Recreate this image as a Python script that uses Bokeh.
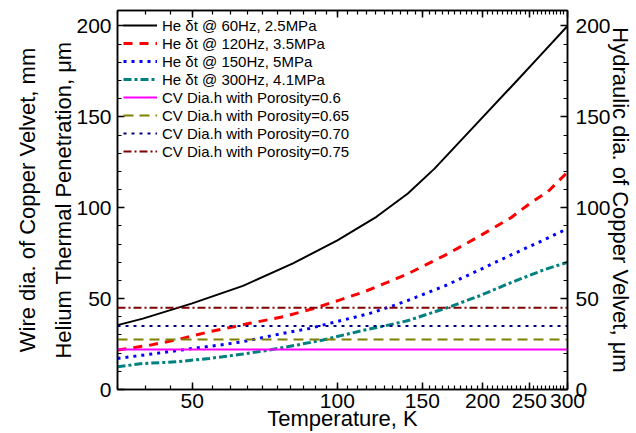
from bokeh.plotting import figure
from bokeh.models import (LinearAxis, LogAxis, FixedTicker, Range1d,
                          NumeralTickFormatter, CustomLabelingPolicy)
from bokeh.embed import file_html
from bokeh.resources import INLINE

# ---- data ----
T_black = [35, 39.5, 50, 63.7, 80.9, 100, 120.5, 140, 159, 192.5, 233, 265, 300]
d_black = [35.4, 39.0, 47.4, 57.0, 69.4, 82.0, 95.0, 107.8, 121.5, 145.0, 168.5, 184.5, 200.0]

T_red = [35, 40.9, 46.7, 54.3, 65.8, 77.2, 89.4, 101, 113.8, 130.4, 139.6, 167, 196, 229, 252, 273.4, 286.7, 300]
d_red = [21.7, 24.4, 27.5, 31.8, 36.4, 40.0, 44.6, 49.2, 53.8, 60.2, 63.5, 73.8, 84.0, 94.5, 102.8, 108.9, 114.4, 119.5]

T_blue = [35, 39.5, 46.3, 50.2, 56.9, 63.7, 71.2, 78.3, 87.6, 96.4, 106.1, 116.8, 128.5, 139.7, 167, 196, 229, 269, 300]
d_blue = [17.1, 18.9, 21.3, 22.6, 24.4, 26.3, 29.0, 31.2, 33.6, 36.4, 39.1, 41.9, 45.5, 48.9, 57.0, 65.5, 74.0, 82.5, 88.5]

T_teal = [35, 39.5, 46.3, 54.3, 63.7, 72.3, 82.1, 93.3, 102.7, 113.8, 125, 139.6, 169, 196, 229, 269, 300]
d_teal = [12.5, 14.3, 15.2, 17.1, 19.5, 21.7, 24.4, 27.2, 29.9, 32.7, 34.9, 37.8, 45.0, 51.3, 58.8, 66.0, 70.0]

T_span = [35, 300]
porosity = ["0.6", "0.65", "0.70", "0.75"]
cv_dia = [22.0, 27.5, 35.0, 45.0]

he_labels = ["He \u03b4t @ 60Hz, 2.5MPa", "He \u03b4t @ 120Hz, 3.5MPa",
             "He \u03b4t @ 150Hz, 5MPa", "He \u03b4t @ 300Hz, 4.1MPa"]

x_major = [50, 100, 150, 200, 250, 300]
x_minor = list(range(35, 300, 5))
y_major = [0, 50, 100, 150, 200]
y_minor = list(range(0, 210, 10))

FONT = "Liberation Sans"

p = figure(width=636, height=433, x_axis_type="log",
           x_range=Range1d(35, 300), y_range=Range1d(0, 208.5),
           output_backend="svg", toolbar_location=None,
           min_border_left=117, min_border_right=69,
           min_border_top=10, min_border_bottom=43)
p.grid.visible = False
p.outline_line_color = "black"
p.outline_line_width = 1.5

# curves
p.line(T_black, d_black, line_color="black", line_width=2, legend_label=he_labels[0])
p.line(T_red, d_red, line_color="#FF0000", line_width=3, line_dash="9 7", legend_label=he_labels[1])
p.line(T_blue, d_blue, line_color="#0000FF", line_width=3, line_dash="3 5", legend_label=he_labels[2])
p.line(T_teal, d_teal, line_color="#008080", line_width=3, line_dash="8 3 3 3", legend_label=he_labels[3])

h_colors = ["#FF00FF", "#808000", "#000080", "#800000"]
h_dash = ["solid", "10 6", "3 5", "8 3 2 3"]
for por, dia, c, dsh in zip(porosity, cv_dia, h_colors, h_dash):
    p.line(T_span, [dia, dia], line_color=c, line_width=2, line_dash=dsh,
           legend_label="CV Dia.h with Porosity=" + por)

xticker = FixedTicker(ticks=x_major, minor_ticks=x_minor)
yticker = FixedTicker(ticks=y_major, minor_ticks=y_minor)


def style(ax):
    ax.major_tick_in = 7
    ax.major_tick_out = 0
    ax.minor_tick_in = 4
    ax.minor_tick_out = 0
    ax.axis_line_width = 1.5
    ax.major_tick_line_width = 1.5
    ax.minor_tick_line_width = 1.2
    ax.major_label_text_font = FONT
    ax.major_label_text_font_size = "21px"
    ax.major_label_text_color = "black"
    ax.axis_label_text_font = FONT
    ax.axis_label_text_font_size = "22px"
    ax.axis_label_text_font_style = "normal"
    ax.axis_label_text_color = "black"


xa = p.xaxis[0]
xa.ticker = xticker
xa.formatter = NumeralTickFormatter(format="0")
style(xa)
xa.axis_label = "Temperature, K"
xa.major_label_standoff = 4
xa.axis_label_standoff = -5

ya = p.yaxis[0]
ya.ticker = yticker
style(ya)
ya.axis_label = "Helium Thermal Penetration, \u03bcm"
ya.major_label_standoff = 6
ya.axis_label_standoff = -3

outer = LinearAxis(ticker=FixedTicker(ticks=[]), axis_label="Wire dia. of Copper Velvet, mm")
style(outer)
outer.axis_line_color = None
outer.major_tick_in = 0
outer.minor_tick_in = 0
outer.axis_label_standoff = 9
p.add_layout(outer, "left")

top = LogAxis(ticker=xticker)
style(top)
top.major_label_policy = CustomLabelingPolicy(code="return new Set()")
top.major_label_text_font_size = "1px"
top.major_label_standoff = 0
p.add_layout(top, "above")

right = LinearAxis(ticker=yticker, axis_label="Hydraulic dia. of Copper Velvet, \u03bcm")
style(right)
right.major_label_standoff = 8
right.axis_label_standoff = -6
p.add_layout(right, "right")

lg = p.legend[0]
lg.location = "top_left"
lg.margin = 6
lg.padding = 8
lg.spacing = 0
lg.glyph_width = 34
lg.glyph_height = 18
lg.label_height = 18
lg.label_standoff = 5
lg.label_text_font = FONT
lg.label_text_font_size = "15px"
lg.label_text_color = "black"
lg.background_fill_alpha = 0
lg.border_line_color = None

open("out.html", "w").write(file_html(p, INLINE))
